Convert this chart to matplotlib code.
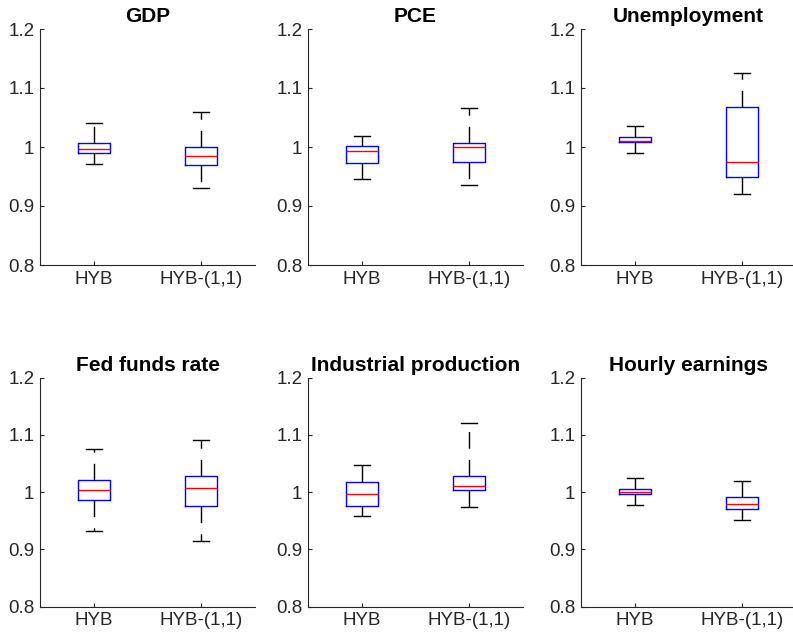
import matplotlib
matplotlib.use('Agg')
import matplotlib.pyplot as plt

plt.rcParams['font.family'] = ['Liberation Sans', 'DejaVu Sans']

titles = ['GDP', 'PCE', 'Unemployment', 'Fed funds rate', 'Industrial production', 'Hourly earnings']
methods = ['HYB', 'HYB-(1,1)']

# per panel: [HYB, HYB-(1,1)]
whis_lo = [[0.971, 0.930], [0.946, 0.935], [0.990, 0.921],
           [0.933, 0.914], [0.958, 0.975], [0.978, 0.951]]
q1 = [[0.989, 0.970], [0.973, 0.975], [1.008, 0.950],
      [0.986, 0.976], [0.976, 1.003], [0.996, 0.971]]
medians = [[0.997, 0.984], [0.994, 1.0005], [1.011, 0.975],
           [1.004, 1.007], [0.996, 1.011], [1.001, 0.980]]
q3 = [[1.007, 1.000], [1.001, 1.006], [1.017, 1.067],
      [1.022, 1.029], [1.018, 1.028], [1.006, 0.992]]
whis_hi = [[1.041, 1.060], [1.019, 1.066], [1.036, 1.125],
           [1.075, 1.091], [1.047, 1.121], [1.024, 1.020]]

fig = plt.figure(figsize=(7.93, 6.38), dpi=100)

lefts = [40, 308, 581]
rows = [(29, 265), (377.7, 606.7)]
W, H = 793.0, 638.0
axw = 215

for i in range(6):
    r, c = divmod(i, 3)
    top, bot = rows[r]
    ax = fig.add_axes([lefts[c] / W, 1 - bot / H, axw / W, (bot - top) / H])
    stats = []
    for j in range(2):
        stats.append({'med': medians[i][j], 'q1': q1[i][j], 'q3': q3[i][j],
                      'whislo': whis_lo[i][j], 'whishi': whis_hi[i][j],
                      'fliers': [], 'label': methods[j]})
    ax.bxp(stats, positions=[1, 2], widths=0.3, showfliers=False,
           boxprops=dict(color='blue', linewidth=1.0),
           medianprops=dict(color='red', linewidth=1.0),
           whiskerprops=dict(color='black', linewidth=1.0, linestyle=(0, (12, 8))),
           capprops=dict(color='black', linewidth=1.0))
    ax.set_xlim(0.5, 2.5)
    ax.set_ylim(0.8, 1.2)
    ax.set_yticks([0.8, 0.9, 1.0, 1.1, 1.2])
    ax.set_yticklabels(['0.8', '0.9', '1', '1.1', '1.2'])
    ax.set_title(titles[i], fontsize=15, fontweight='bold', pad=5)
    for s in ['top', 'right']:
        ax.spines[s].set_visible(False)
    for s in ['left', 'bottom']:
        ax.spines[s].set_color('#262626')
        ax.spines[s].set_linewidth(0.8)
    ax.tick_params(direction='in', length=3, width=0.8, colors='#262626',
                   labelsize=13.5, pad=4)

fig.savefig('out.png', dpi=100)
